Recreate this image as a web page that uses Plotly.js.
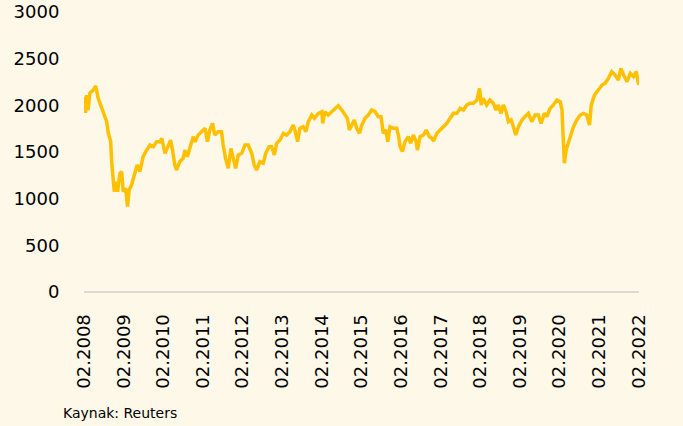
<!DOCTYPE html>
<html>
<head>
<meta charset="utf-8">
<script src="https://cdn.plot.ly/plotly-3.0.1.min.js"></script>
<style>
  html, body { margin: 0; padding: 0; background: #FEF8E8; }
  #chart { width: 683px; height: 426px; }
</style>
</head>
<body>
<div id="chart"></div>
<script>
const dates = [
  "2008-02-01","2008-02-08","2008-02-15","2008-02-26","2008-03-10","2008-03-26","2008-04-26","2008-05-20",
  "2008-06-10","2008-07-12","2008-08-03","2008-08-28","2008-09-12","2008-10-04","2008-10-13","2008-10-28",
  "2008-11-06","2008-11-28","2008-12-07","2008-12-28","2009-01-13","2009-01-28","2009-02-20","2009-03-08",
  "2009-03-23","2009-04-14","2009-05-14","2009-06-05","2009-06-30","2009-07-30","2009-09-01","2009-10-01",
  "2009-11-01","2009-12-02","2010-01-02","2010-01-18","2010-02-17","2010-03-18","2010-04-09","2010-04-27",
  "2010-05-18","2010-06-03","2010-07-03","2010-08-03","2010-08-19","2010-09-10","2010-10-04","2010-11-04",
  "2010-11-20","2010-12-20","2011-01-20","2011-02-21","2011-03-15","2011-04-06","2011-05-01","2011-05-22",
  "2011-06-22","2011-07-23","2011-08-07","2011-08-29","2011-09-23","2011-10-17","2011-11-08","2011-11-30",
  "2011-12-24","2012-01-25","2012-02-24","2012-03-25","2012-04-26","2012-05-19","2012-06-10","2012-07-10",
  "2012-08-10","2012-09-02","2012-10-02","2012-10-27","2012-11-20","2012-12-12","2013-01-12","2013-02-12",
  "2013-03-13","2013-04-13","2013-05-13","2013-05-29","2013-06-23","2013-07-14","2013-08-14","2013-09-08",
  "2013-09-30","2013-11-01","2013-11-25","2014-01-01","2014-02-01","2014-02-10","2014-03-01","2014-04-01",
  "2014-05-03","2014-06-03","2014-07-03","2014-08-04","2014-09-04","2014-09-25","2014-10-13","2014-11-05",
  "2014-11-28","2014-12-20","2015-01-14","2015-02-05","2015-03-06","2015-04-06","2015-05-07","2015-06-07",
  "2015-07-07","2015-08-01","2015-08-22","2015-09-17","2015-10-02","2015-10-23","2015-11-23","2015-12-24",
  "2016-01-08","2016-01-24","2016-02-14","2016-03-09","2016-04-09","2016-04-30","2016-05-25","2016-06-19",
  "2016-07-01","2016-07-26","2016-08-26","2016-09-20","2016-10-20","2016-11-12","2016-11-27","2016-12-28",
  "2017-01-28","2017-02-28","2017-03-29","2017-04-29","2017-05-29","2017-06-30","2017-07-30","2017-08-30",
  "2017-09-30","2017-10-30","2017-11-30","2018-01-01","2018-01-25","2018-02-10","2018-03-01","2018-04-01",
  "2018-05-01","2018-06-01","2018-06-26","2018-07-17","2018-08-11","2018-09-02","2018-09-27","2018-10-18",
  "2018-11-12","2018-12-03","2018-12-25","2019-01-19","2019-02-20","2019-03-20","2019-04-20","2019-05-21",
  "2019-06-21","2019-07-21","2019-08-15","2019-09-15","2019-10-07","2019-11-07","2019-12-07","2020-01-08",
  "2020-02-08","2020-02-24","2020-03-08","2020-03-17","2020-04-02","2020-04-24","2020-05-15","2020-06-09",
  "2020-07-10","2020-08-10","2020-09-10","2020-10-10","2020-11-04","2020-11-20","2020-12-20","2021-01-26",
  "2021-02-27","2021-03-27","2021-04-27","2021-05-28","2021-06-28","2021-07-28","2021-08-20","2021-09-14",
  "2021-10-15","2021-11-15","2021-12-15","2022-01-09","2022-01-31"
];
const values = [
  1990,2092,1918,2110,1950,2132,2164,2207,
  2078,1971,1896,1825,1703,1611,1396,1221,
  1075,1182,1075,1272,1289,1075,1111,914,
  1093,1146,1254,1361,1289,1450,1521,1575,
  1557,1611,1611,1647,1486,1557,1628,1521,
  1361,1307,1396,1432,1521,1450,1557,1664,
  1611,1682,1718,1754,1611,1736,1807,1682,
  1718,1718,1575,1432,1325,1539,1432,1325,
  1468,1486,1575,1575,1486,1361,1307,1396,
  1379,1486,1557,1557,1468,1593,1628,1700,
  1682,1718,1789,1736,1611,1754,1771,1718,
  1825,1896,1861,1914,1932,1807,1932,1896,
  1932,1968,1996,1950,1896,1861,1736,1789,
  1843,1754,1700,1789,1861,1896,1950,1932,
  1879,1879,1700,1736,1611,1771,1754,1754,
  1682,1557,1504,1611,1664,1593,1682,1611,
  1521,1664,1682,1736,1664,1647,1618,1700,
  1736,1771,1807,1861,1914,1914,1968,1950,
  2004,2022,2022,2057,2182,2004,2075,2004,
  2057,2022,1950,2004,1914,2004,1932,1825,
  1843,1771,1682,1771,1843,1879,1914,1825,
  1896,1896,1807,1914,1879,1968,2004,2057,
  2039,1950,1647,1379,1521,1593,1682,1771,
  1843,1896,1914,1896,1789,2004,2111,2164,
  2218,2236,2289,2361,2325,2271,2396,2325,
  2253,2343,2307,2361,2218
];
const yTicks = [0, 500, 1000, 1500, 2000, 2500, 3000];
const sourceText = "Kaynak: Reuters";

const trace = {
  x: dates,
  y: values,
  type: "scatter",
  mode: "lines",
  line: { color: "#FFC000", width: 3.5 },
  hoverinfo: "skip"
};

const layout = {
  width: 683,
  height: 426,
  paper_bgcolor: "#FEF8E8",
  plot_bgcolor: "#FEF8E8",
  margin: { l: 84, r: 44, t: 12, b: 134 },
  showlegend: false,
  font: { family: "DejaVu Sans, sans-serif", size: 18, color: "#000000" },
  xaxis: {
    type: "date",
    range: ["2008-02-01", "2022-02-03"],
    tick0: "2008-02-01",
    dtick: "M12",
    tickformat: "%m.%Y",
    tickangle: -90,
    ticks: "outside",
    ticklen: 14,
    tickcolor: "rgba(0,0,0,0)",
    showgrid: false,
    zeroline: false,
    showline: false,
    tickfont: { family: "DejaVu Sans, sans-serif", size: 18, color: "#000000" }
  },
  yaxis: {
    range: [0, 3000],
    tickvals: yTicks,
    ticktext: yTicks.map(String),
    ticks: "outside",
    ticklen: 20,
    tickcolor: "rgba(0,0,0,0)",
    showgrid: false,
    zeroline: true,
    zerolinecolor: "#D9D9D9",
    zerolinewidth: 1.5,
    showline: false,
    tickfont: { family: "DejaVu Sans, sans-serif", size: 18, color: "#000000" }
  },
  annotations: [{
    text: sourceText,
    xref: "paper", yref: "paper",
    x: -0.042, y: 0, yshift: -121,
    xanchor: "left", yanchor: "middle",
    showarrow: false,
    font: { family: "DejaVu Sans, sans-serif", size: 14, color: "#000000" }
  }]
};

Plotly.newPlot("chart", [trace], layout, { displayModeBar: false, staticPlot: true });
</script>
</body>
</html>
